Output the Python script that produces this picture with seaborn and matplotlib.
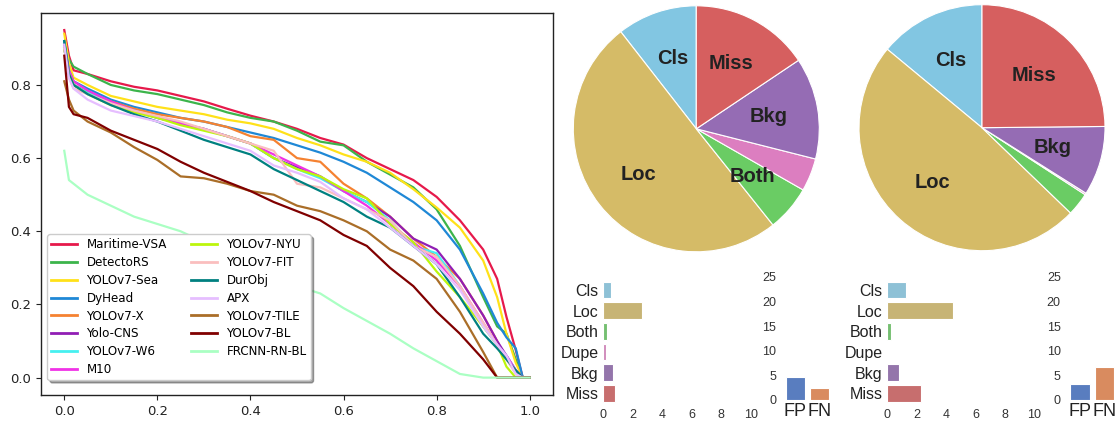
import matplotlib
matplotlib.use("Agg")
import matplotlib.pyplot as plt
import numpy as np
import pandas as pd
import seaborn as sns

# ---------------- precision / recall curves ----------------
recall = [0.0, 0.01, 0.02, 0.05, 0.1, 0.15, 0.2, 0.25, 0.3, 0.35, 0.4, 0.45, 0.5,
          0.55, 0.6, 0.65, 0.7, 0.75, 0.8, 0.85, 0.9, 0.93, 0.95, 0.97, 0.985, 1.0]

models = ["Maritime-VSA", "DetectoRS", "YOLOv7-Sea", "DyHead", "YOLOv7-X", "Yolo-CNS",
          "YOLOv7-W6", "M10", "YOLOv7-NYU", "YOLOv7-FIT", "DurObj", "APX",
          "YOLOv7-TILE", "YOLOv7-BL", "FRCNN-RN-BL"]

model_colors = ["#e6194b", "#3cb44b", "#ffe119", "#1f88d6", "#f58231", "#911eb4",
                "#46f0f0", "#f032e6", "#bcf60c", "#fabebe", "#008080", "#e6beff",
                "#aa6e28", "#800000", "#aaffc3"]

prec_maritime_vsa = [.95, .88, .84, .83, .81, .795, .785, .77, .755, .735, .716, .70, .68,
                     .655, .637, .60, .57, .54, .494, .43, .35, .27, .166, .075, 0, 0]
prec_detectors = [.92, .87, .85, .83, .80, .785, .775, .76, .745, .725, .71, .70, .675,
                  .645, .635, .59, .555, .52, .46, .36, .22, .14, .12, .05, 0, 0]
prec_yolov7_sea = [.94, .86, .82, .80, .77, .755, .74, .73, .72, .705, .695, .68, .655,
                   .635, .61, .59, .56, .515, .465, .41, .32, .22, .12, .04, 0, 0]
prec_dyhead = [.92, .84, .81, .79, .76, .74, .725, .71, .70, .685, .67, .655, .635,
               .615, .59, .56, .52, .48, .43, .35, .23, .15, .11, .08, 0, 0]
prec_yolov7_x = [.90, .83, .80, .78, .755, .735, .72, .71, .70, .685, .66, .65, .60,
                 .59, .53, .49, .44, .38, .33, .27, .17, .10, .05, .02, 0, 0]
prec_yolo_cns = [.90, .83, .80, .78, .75, .73, .71, .695, .68, .66, .64, .60, .575,
                 .55, .51, .48, .44, .38, .35, .27, .17, .10, .06, .02, 0, 0]
prec_yolov7_w6 = [.90, .83, .80, .78, .75, .73, .71, .695, .68, .66, .64, .60, .57,
                  .545, .51, .48, .43, .36, .34, .25, .14, .09, .06, .02, 0, 0]
prec_m10 = [.91, .84, .81, .785, .755, .73, .71, .695, .68, .66, .64, .61, .58,
            .55, .51, .47, .42, .37, .32, .25, .15, .09, .06, .02, 0, 0]
prec_yolov7_nyu = [.90, .83, .80, .775, .745, .725, .71, .69, .675, .66, .64, .60, .57,
                   .55, .515, .49, .42, .37, .29, .22, .14, .09, .03, 0, 0, 0]
prec_yolov7_fit = [.90, .82, .79, .775, .75, .73, .715, .70, .68, .66, .64, .62, .53,
                   .52, .49, .46, .43, .36, .33, .25, .15, .09, .05, .01, 0, 0]
prec_durobj = [.92, .83, .80, .775, .745, .72, .70, .675, .65, .63, .61, .57, .54,
               .51, .48, .44, .41, .36, .31, .22, .12, .08, .05, .02, 0, 0]
prec_apx = [.91, .82, .79, .76, .73, .715, .70, .68, .66, .64, .62, .58, .56,
            .535, .49, .46, .41, .36, .31, .24, .14, .09, .06, .01, 0, 0]
prec_yolov7_tile = [.81, .76, .73, .70, .67, .63, .595, .55, .545, .53, .51, .50, .47,
                    .455, .43, .40, .35, .32, .27, .18, .07, 0, 0, 0, 0, 0]
prec_yolov7_bl = [.88, .74, .72, .71, .675, .65, .625, .59, .56, .535, .51, .48, .455,
                  .43, .39, .36, .30, .25, .18, .12, .05, 0, 0, 0, 0, 0]
prec_frcnn_rn_bl = [.62, .54, .53, .50, .47, .44, .42, .40, .37, .34, .31, .28, .25,
                    .23, .19, .155, .12, .08, .045, .01, 0, 0, 0, 0, 0, 0]

precisions = [prec_maritime_vsa, prec_detectors, prec_yolov7_sea, prec_dyhead,
              prec_yolov7_x, prec_yolo_cns, prec_yolov7_w6, prec_m10, prec_yolov7_nyu,
              prec_yolov7_fit, prec_durobj, prec_apx, prec_yolov7_tile, prec_yolov7_bl,
              prec_frcnn_rn_bl]

# ---------------- error breakdowns ----------------
error_names = ["Cls", "Loc", "Both", "Dupe", "Bkg", "Miss"]
error_colors = ["#82c6e2", "#d5bb67", "#6acc64", "#dc7ec0", "#956cb4", "#d65f5f"]
errors_a = [0.56, 2.67, 0.32, 0.23, 0.71, 0.83]
errors_b = [1.29, 4.50, 0.28, 0.02, 0.84, 2.29]

special_names = ["FP", "FN"]
special_colors = ["#4878d0", "#ee854a"]
special_a = [4.6, 2.4]
special_b = [3.3, 6.6]

SANS = "Liberation Sans"

plt.rcParams["font.family"] = ["DejaVu Sans"]
W, H = 1119, 422
fig = plt.figure(figsize=(W / 100, H / 100), dpi=100)


def rect(x0, y0, x1, y1):
    """Pixel box (top-left origin) -> figure fraction rect."""
    return [x0 / W, 1 - y1 / H, (x1 - x0) / W, (y1 - y0) / H]


# ---------- PR curves ----------
ax = fig.add_axes(rect(41, 12.7, 553, 395))
rows = []
for name, prec in zip(models, precisions):
    for r, p in zip(recall, prec):
        rows.append((name, r, p))
df = pd.DataFrame(rows, columns=["model", "recall", "precision"])
sns.lineplot(data=df, x="recall", y="precision", hue="model", hue_order=models,
             palette=dict(zip(models, model_colors)), estimator=None, sort=False,
             linewidth=1.6, ax=ax)
ax.set_xlabel("")
ax.set_ylabel("")
ax.set_xticks([0.0, 0.2, 0.4, 0.6, 0.8, 1.0])
ax.set_yticks([0.0, 0.2, 0.4, 0.6, 0.8])
ax.tick_params(labelsize=9.5, colors="#222222")
for s in ax.spines.values():
    s.set_color("#222222")
    s.set_linewidth(1.0)
handles, labels = ax.get_legend_handles_labels()
leg = ax.legend(handles, labels, ncol=2, loc="lower left",
                bbox_to_anchor=(0.0123, 0.039), borderaxespad=0, shadow=True,
                fancybox=True, fontsize=8.6, handlelength=2.15, handletextpad=0.78,
                columnspacing=2.06, labelspacing=0.4, borderpad=0.35)
for ln in leg.get_lines():
    ln.set_linewidth(2.0)


# ---------- pie + bar panels ----------
def draw_pie(box, values):
    pax = fig.add_axes(box)
    wedges, _ = pax.pie(values, colors=error_colors, startangle=90, counterclock=True,
                        wedgeprops=dict(edgecolor="white", linewidth=0.8))
    total = sum(values)
    for w, name, v in zip(wedges, error_names, values):
        if v / total > 0.05:
            ang = np.deg2rad((w.theta1 + w.theta2) / 2)
            pax.text(0.6 * np.cos(ang), 0.6 * np.sin(ang), name, ha="center",
                     va="center", fontsize=14.5, fontweight="bold", color="#222222",
                     family=SANS)
    pax.set_xlim(-1.0, 1.0)
    pax.set_ylim(-1.0, 1.0)
    pax.set_axis_off()


def draw_hbars(box, values):
    bax = fig.add_axes(box)
    sns.barplot(x=values, y=error_names, hue=error_names, palette=error_colors,
                legend=False, orient="h", width=0.8, edgecolor="white",
                linewidth=0.8, ax=bax)
    bax.set_xlim(0, 10)
    bax.set_xticks([0, 2, 4, 6, 8, 10])
    bax.set_xlabel("")
    bax.set_ylabel("")
    bax.tick_params(axis="y", length=0, pad=3, labelsize=11.5, colors="#222222")
    bax.tick_params(axis="x", length=0, pad=3.5, labelsize=9, colors="#333333")
    for t in bax.get_xticklabels() + bax.get_yticklabels():
        t.set_family(SANS)
    sns.despine(ax=bax, left=True, bottom=True)
    bax.grid(False)


def draw_vbars(box, values):
    vax = fig.add_axes(box)
    sns.barplot(x=special_names, y=values, hue=special_names, palette=special_colors,
                legend=False, width=0.8, edgecolor="white", linewidth=0.8, ax=vax)
    vax.set_ylim(0, 25)
    vax.set_yticks([0, 5, 10, 15, 20, 25])
    vax.set_xlabel("")
    vax.set_ylabel("")
    vax.tick_params(axis="y", length=0, pad=5, labelsize=9, colors="#333333")
    vax.tick_params(axis="x", length=0, pad=2, labelsize=13, colors="#222222")
    for t in vax.get_xticklabels() + vax.get_yticklabels():
        t.set_family(SANS)
    sns.despine(ax=vax, left=True, bottom=True)
    vax.grid(False)


draw_pie(rect(573.3, 5.8, 819.3, 251.8), errors_a)
draw_pie(rect(859.0, 4.7, 1105.0, 250.7), errors_b)
draw_hbars(rect(602.7, 279.7, 751.0, 403.7), errors_a)
draw_hbars(rect(887.0, 279.7, 1034.3, 403.7), errors_b)
draw_vbars(rect(783.2, 276.7, 831.8, 400.0), special_a)
draw_vbars(rect(1067.75, 276.7, 1116.75, 400.0), special_b)

fig.savefig("out.png", dpi=100, facecolor="white")
